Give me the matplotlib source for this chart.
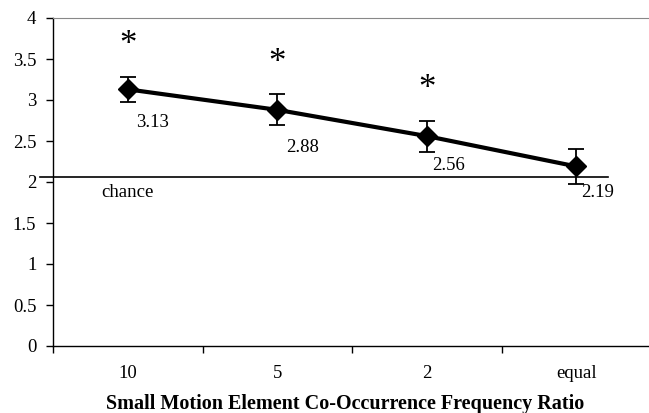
import matplotlib.pyplot as plt

# data
categories = ['10', '5', '2', 'equal']
means = [3.13, 2.88, 2.56, 2.19]
errors = [0.15, 0.19, 0.19, 0.21]
value_labels = ['3.13', '2.88', '2.56', '2.19']
significant = [True, True, True, False]
chance_level = 2.06

# label offsets in points (x, y) from each point
label_offsets = [(18, -24), (18, -27), (16, -21), (15, -19)]

plt.rcParams['font.family'] = ['Liberation Serif', 'DejaVu Serif']

fig = plt.figure(figsize=(6.49, 4.13), dpi=100)
W, H = 649, 413
ax = fig.add_axes([53 / W, (H - 346) / H, 598 / W, 328 / H])

x = list(range(len(categories)))
ax.errorbar(x, means, yerr=errors, color='black', lw=3, marker='D', ms=10,
            elinewidth=1.3, capsize=6, capthick=1.3, zorder=3)

# value labels
for i, (m, lab, off) in enumerate(zip(means, value_labels, label_offsets)):
    ax.annotate(lab, (i, m), xytext=off, textcoords='offset points',
                ha='center', va='center', fontsize=13.5)

# significance stars
for i, (m, e, s) in enumerate(zip(means, errors, significant)):
    if s:
        ax.text(i, m + e + 0.38, '*', ha='center', va='center', fontsize=25)

# chance line (drawn a bit past the y axis)
ax.plot([-0.59, 3.21], [chance_level, chance_level], color='black', lw=1.2,
        clip_on=False, zorder=2)
ax.text(0, chance_level - 0.19, 'chance', ha='center', va='center', fontsize=13.5)

ax.set_xlim(-0.5, 3.5)
ax.set_ylim(0, 4)
ax.set_yticks([0, 0.5, 1, 1.5, 2, 2.5, 3, 3.5, 4])
ax.set_yticklabels(['0', '0.5', '1', '1.5', '2', '2.5', '3', '3.5', '4'], fontsize=13.5)
ax.set_xticks(x)
ax.set_xticklabels(categories, fontsize=13.5)
ax.set_xticks([-0.5, 0.5, 1.5, 2.5, 3.5], minor=True)
ax.tick_params(axis='x', which='major', length=0, pad=14)
ax.tick_params(axis='x', which='minor', length=5, width=1)
ax.tick_params(axis='y', length=5, width=1, pad=7)

ax.spines['right'].set_visible(False)
ax.spines['top'].set_color('#888888')
ax.spines['left'].set_linewidth(1)
ax.spines['bottom'].set_linewidth(1)

ax.set_xlabel('Small Motion Element Co-Occurrence Frequency Ratio',
              fontsize=14.5, fontweight='bold')
ax.xaxis.set_label_coords(292 / 598, -48 / 328)

fig.savefig('out.png', dpi=100)
